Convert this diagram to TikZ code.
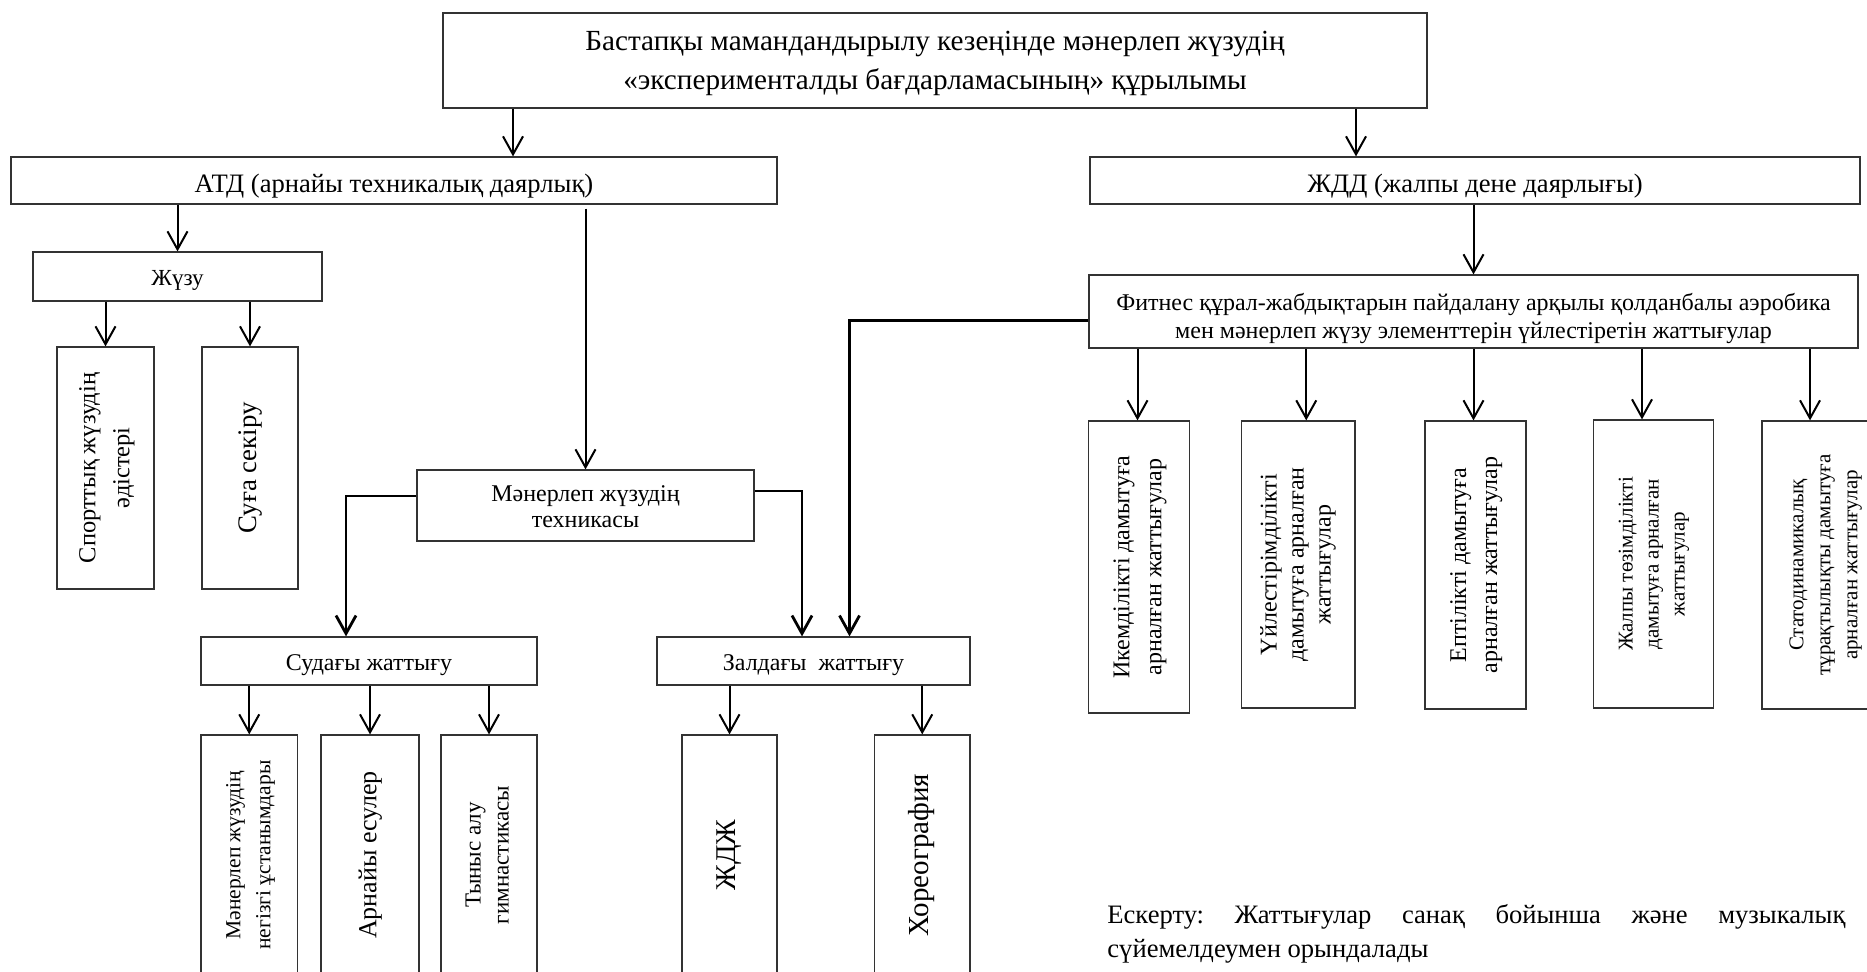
\documentclass[tikz,border=0pt]{standalone}
\usepackage{fontspec}
\setmainfont{Liberation Serif}
\usepackage{graphicx}
\usetikzlibrary{arrows.meta}
\frenchspacing
\newcommand{\fsz}[2]{\fontsize{#1}{#2}\selectfont}
\newcommand{\vtxt}[1]{\rotatebox{90}{\begin{tabular}{@{}c@{}}#1\end{tabular}}}
\newcommand{\dn}[2]{\raisebox{-#1}[\height][\depth]{\begin{tabular}{@{}c@{}}#2\end{tabular}}}
\tikzset{
  box/.style={draw=black!80, line width=0.6pt, inner sep=0pt, align=center},
  arr/.style={-{Straight Barb[length=9pt,width=10pt]}, line width=1pt},
  elbow/.style={arr, line width=1.4pt}
}
\begin{document}
\begin{tikzpicture}[x=0.5pt,y=-0.5pt]
\clip (0,0) rectangle (1867,972);
% Бас блок
\node[box, minimum width=492pt, minimum height=47.5pt, font=\fsz{14.6}{19.5}] (top) at (935,60.5)
  {\dn{1pt}{Бастапқы мамандандырылу кезеңінде мәнерлеп жүзудің\\«эксперименталды бағдарламасының» құрылымы}};
\node[box, minimum width=383pt, minimum height=23.5pt, font=\fsz{13.3}{16}] (atd) at (394,180.5)
  {\dn{3pt}{АТД (арнайы техникалық даярлық)}};
\node[box, minimum width=385pt, minimum height=23.5pt, font=\fsz{13.3}{16}] (zhdd) at (1475,180.5)
  {\dn{3pt}{ЖДД (жалпы дене даярлығы)}};
% АТД тармағы
\node[box, minimum width=144.5pt, minimum height=24.5pt, font=\fsz{11.5}{14}] (zhuzu) at (177.5,276.5)
  {\dn{1.75pt}{Жүзу}};
\node[box, minimum width=48.5pt, minimum height=121pt, font=\fsz{12.2}{17}] (sport) at (105.5,468)
  {\vtxt{Спорттық жүзудің\\әдістері}};
\node[box, minimum width=48pt, minimum height=121pt, font=\fsz{13.4}{16}] (suga) at (250,468)
  {\vtxt{Суға секіру}};
\node[box, minimum width=168.5pt, minimum height=35.5pt, font=\fsz{12}{13}] (tech) at (585.5,505.5)
  {\dn{1.8pt}{Мәнерлеп жүзудің\\техникасы}};
\node[box, minimum width=168pt, minimum height=24pt, font=\fsz{12}{14}] (sudagy) at (369,661)
  {\dn{1.8pt}{Судағы жаттығу}};
\node[box, minimum width=156.5pt, minimum height=24pt, font=\fsz{12}{14}] (zal) at (813.5,661)
  {\dn{1.8pt}{Залдағы \ жаттығу}};
% Төменгі блоктар
\node[box, minimum width=48.25pt, minimum height=120pt, font=\fsz{10.75}{15}] (b1) at (249.25,855)
  {\vtxt{Мәнерлеп жүзудің\\негізгі ұстанымдары}};
\node[box, minimum width=49pt, minimum height=120pt, font=\fsz{13}{16}] (b2) at (370,855)
  {\vtxt{Арнайы есулер}};
\node[box, minimum width=48pt, minimum height=120pt, font=\fsz{11.5}{14}] (b3) at (489,855)
  {\vtxt{Тыныс алу\\гимнастикасы}};
\node[box, minimum width=47.5pt, minimum height=120pt, font=\fsz{14.3}{16}] (b4) at (729.5,855)
  {\vtxt{ЖДЖ}};
\node[box, minimum width=47.75pt, minimum height=120pt, font=\fsz{14.5}{16}] (b5) at (922.25,855)
  {\vtxt{Хореография}};
% ЖДД тармағы
\node[box, minimum width=384.5pt, minimum height=36.5pt, font=\fsz{12}{14}] (fit) at (1473.5,311.5)
  {\dn{3.5pt}{Фитнес құрал-жабдықтарын пайдалану арқылы қолданбалы аэробика\\мен мәнерлеп жүзу элементтерін үйлестіретін жаттығулар}};
\node[box, minimum width=50.5pt, minimum height=146pt, font=\fsz{12}{16}] (r1) at (1139,567)
  {\vtxt{Икемділікті дамытуға\\арналған жаттығулар}};
\node[box, minimum width=56.75pt, minimum height=143.5pt, font=\fsz{12}{13.5}] (r2) at (1298.25,564.5)
  {\vtxt{Үйлестірімділікті\\дамытуға арналған\\жаттығулар}};
\node[box, minimum width=50.5pt, minimum height=144pt, font=\fsz{12}{15.5}] (r3) at (1475.5,565)
  {\vtxt{Ептілікті дамытуға\\арналған жаттығулар}};
\node[box, minimum width=60pt, minimum height=144pt, font=\fsz{10.5}{13}] (r4) at (1653.5,564)
  {\vtxt{Жалпы төзімділікті\\дамытуға арналған\\жаттығулар}};
\node[box, minimum width=63pt, minimum height=144pt, font=\fsz{10.5}{13.5}] (r5) at (1825,565)
  {\vtxt{Статодинамикалық\\тұрақтылықты дамытуға\\арналған жаттығулар}};
% Ескерту
\node[anchor=north west, inner sep=0pt, text width=369pt, align=justify, font=\fsz{13.3}{17}] (note) at (1107,904)
  {Ескерту: Жаттығулар санақ бойынша және музыкалық сүйемелдеумен орындалады};
% Бағыттар
\draw[arr] ([xshift=59.5pt]atd.north |- top.south) -- ([xshift=59.5pt]atd.north);
\draw[arr] ([xshift=-59.5pt]zhdd.north |- top.south) -- ([xshift=-59.5pt]zhdd.north);
\draw[arr] (atd.south -| zhuzu.north) -- (zhuzu.north);
\draw[arr] ([yshift=-2pt]atd.south -| tech.north) -- (tech.north);
\draw[arr] (zhuzu.south -| sport.north) -- (sport.north);
\draw[arr] (zhuzu.south -| suga.north) -- (suga.north);
\draw[elbow] ([yshift=4.75pt]tech.west) -| ([xshift=-11.5pt]sudagy.north);
\draw[elbow] ([yshift=7.25pt]tech.east) -| ([xshift=-5.75pt]zal.north);
\draw[elbow] ([yshift=-4.5pt]fit.west) -| ([xshift=18pt]zal.north);
\foreach \b in {b1,b2,b3}
  \draw[arr] (sudagy.south -| \b.north) -- (\b.north);
\foreach \b in {b4,b5}
  \draw[arr] (zal.south -| \b.north) -- (\b.north);
\draw[arr] (zhdd.south -| fit.north) -- (fit.north);
\foreach \b/\s in {r1/-0.75pt, r2/4pt, r3/-1pt, r4/-5.75pt, r5/-7.5pt}
  \draw[arr] ([xshift=\s]\b.north |- fit.south) -- ([xshift=\s]\b.north);
\end{tikzpicture}
\end{document}
